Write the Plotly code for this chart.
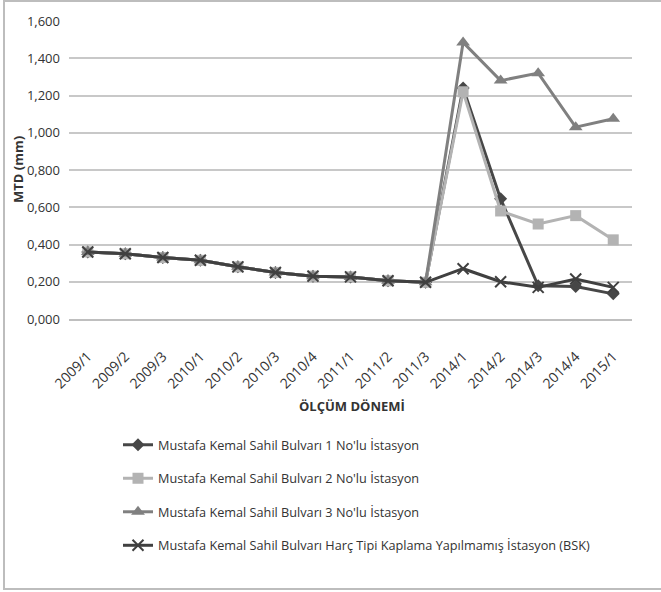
import plotly.graph_objects as go

periods = ["2009/1", "2009/2", "2009/3", "2010/1", "2010/2", "2010/3", "2010/4",
           "2011/1", "2011/2", "2011/3", "2014/1", "2014/2", "2014/3", "2014/4", "2015/1"]

station1 = [0.36, 0.35, 0.33, 0.315, 0.28, 0.25, 0.23, 0.226, 0.205, 0.197, 1.24, 0.645, 0.178, 0.175, 0.135]
station2 = [0.36, 0.35, 0.33, 0.315, 0.28, 0.25, 0.23, 0.226, 0.205, 0.197, 1.22, 0.58, 0.51, 0.555, 0.425]
station3 = [0.36, 0.35, 0.33, 0.315, 0.28, 0.25, 0.23, 0.226, 0.205, 0.197, 1.485, 1.28, 1.32, 1.03, 1.075]
station_bsk = [0.36, 0.35, 0.33, 0.315, 0.28, 0.25, 0.23, 0.226, 0.205, 0.197, 0.27, 0.20, 0.17, 0.215, 0.17]

names = [
    "Mustafa Kemal Sahil Bulvarı 1 No'lu İstasyon",
    "Mustafa Kemal Sahil Bulvarı 2 No'lu İstasyon",
    "Mustafa Kemal Sahil Bulvarı 3 No'lu İstasyon",
    "Mustafa Kemal Sahil Bulvarı Harç Tipi Kaplama Yapılmamış İstasyon (BSK)",
]

FONT = "Open Sans, sans-serif"
TXT = "#333333"

# plot area in pixels
L, R, T, B = 69, 632, 21, 319
W, H = 661, 592
pw, ph = R - L, B - T

def px_x(x):
    return (x - L) / pw

def px_y(y):
    return (B - y) / ph

styles = [
    dict(color="#474747", symbol="diamond", size=10),
    dict(color="#b3b3b3", symbol="square", size=11),
    dict(color="#808080", symbol="triangle-up", size=12),
    dict(color="#404040", symbol="x-thin", size=11),
]

fig = go.Figure()
for i, (vals, name, st) in enumerate(zip([station1, station2, station3, station_bsk], names, styles)):
    marker = dict(symbol=st["symbol"], size=st["size"], color=st["color"])
    if st["symbol"] == "x-thin":
        marker["line"] = dict(color=st["color"], width=2)
    fig.add_trace(go.Scatter(
        x=periods, y=vals, name=name, mode="lines+markers",
        line=dict(color=st["color"], width=3),
        marker=marker, legendgroup=f"g{i}",
    ))

fig.update_layout(
    width=W, height=H,
    margin=dict(l=L, r=W - R, t=T, b=H - B),
    paper_bgcolor="white", plot_bgcolor="white",
    separators=",.",
    font=dict(family=FONT, size=12, color=TXT),
    showlegend=True,
    legend=dict(
        x=px_x(118), y=px_y(430), xanchor="left", yanchor="top",
        font=dict(family=FONT, size=12.7, color=TXT),
        tracegroupgap=14, itemwidth=30, bgcolor="rgba(0,0,0,0)",
    ),
    xaxis=dict(
        type="category", range=[-0.5, 14.5], tickangle=-45,
        showgrid=False, showline=True, linecolor="#bfbfbf", linewidth=1.5,
        ticks="", ticklabelstandoff=22,
        tickfont=dict(family=FONT, size=14, color=TXT),
    ),
    yaxis=dict(
        range=[0, 1.6], tickvals=[0, 0.2, 0.4, 0.6, 0.8, 1.0, 1.2, 1.4, 1.6],
        tickformat=",.3f", showgrid=True, gridcolor="#c8c8c8", gridwidth=1.5,
        zeroline=False, showline=False, ticks="", ticklabelstandoff=8,
        tickfont=dict(family=FONT, size=13, color=TXT),
    ),
    annotations=[
        dict(text="<b>ÖLÇÜM DÖNEMİ</b>", xref="paper", yref="paper",
             x=px_x(352), y=px_y(406), xanchor="center", yanchor="middle",
             showarrow=False, font=dict(family=FONT, size=13, color=TXT)),
        dict(text="<b>MTD (mm)</b>", xref="paper", yref="paper",
             x=px_x(18), y=px_y(170), xanchor="center", yanchor="middle",
             showarrow=False, textangle=-90,
             font=dict(family=FONT, size=13, color=TXT)),
    ],
    shapes=[
        dict(type="rect", xref="paper", yref="paper",
             x0=px_x(4), x1=px_x(680), y0=px_y(589), y1=px_y(1),
             line=dict(color="#bdbdbd", width=2), layer="below"),
    ],
)

fig.write_html("out.html")
